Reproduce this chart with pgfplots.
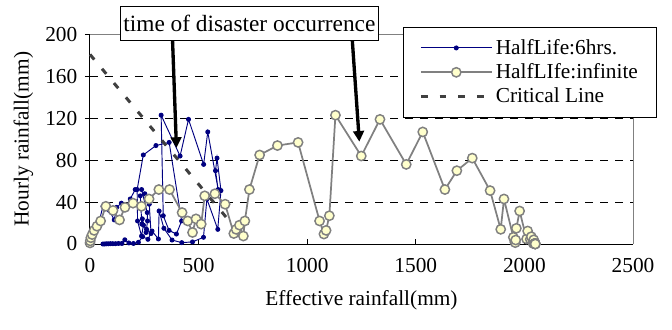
\documentclass[border=0pt]{standalone}
\usepackage{fontspec}
\setmainfont{Liberation Serif}
\usepackage{pgfplots}
\pgfplotsset{compat=1.18}
\usetikzlibrary{arrows.meta}
\definecolor{bluenavy}{RGB}{0,0,128}
\definecolor{grayline}{RGB}{128,128,128}
\definecolor{ltyellow}{RGB}{255,255,204}
\definecolor{critcol}{RGB}{64,64,64}

\pgfplotstableread{
x y
0 1
1 3
3.9 6
9.5 9
17.5 13
28.6 17
42.5 22
59.8 36
89.3 32
111.6 23
122.8 35
144.4 39
167.7 36
185.4 43
208.2 52
237.5 52
263.6 30
264.9 22
258 11
240.9 24
238.6 19
231.6 46
252.4 48
272.9 38
281.1 10
260.5 14
246.1 18
237.3 7.6
219 22
217.1 52
245.4 85
303.6 94
364.5 97
421.8 22
397.8 9.5
364 13
337.3 27
327.5 123
414.8 84
453.6 119
523.2 76
542.2 107
590.1 52
577.8 70
584.8 82
603 51
588.3 14
538.2 43
522.5 6.4
471.9 2
422.5 1.3
377.7 3.8
340.3 15
318.2 31.5
315 4.8
285.5 12.4
266.8 4.5
242.2 7
222.8 1.6
200.1 0.5
178.8 1
160.3 4
146.8 0.5
131.3 0.5
117.5 0.3
105 0.3
93.9 0.3
84 0.2
75 0.2
67 0
59.7 0
}\sixhrs

\pgfplotstableread{
x y
0 1
1 3
4 6
10 9
19 13
32 17
49 22
73 36
106 32
136 23
161 35
198 39
237 36
272 43
317 52
366 52
424 30
450 22
472 11
488 24
512 19
528 46
575 48
622 38
662 10
673 14
688 18
706 7.6
713 22
734 52
781 85
863 94
958 97
1057 22
1077 9.5
1087 13
1102 27
1130 123
1249 84
1335 119
1456 76
1532 107
1634 52
1689 70
1760 82
1842 51
1891 14
1906 43
1949 6.4
1956 2
1958 1.3
1960 3.8
1963 15
1978 31.5
2010 4.8
2015 12.4
2027 4.5
2032 7
2039 1.6
2041 0.5
2042 1
2043 4
2047 0.5
2048 0.5
2048.5 0.3
2049 0.3
2049.3 0.3
2049.6 0.2
2049.8 0.2
2050 0
2050 0
}\infinite

\begin{document}
\begin{tikzpicture}
\path[use as bounding box] (-67.5pt,-63.75pt) rectangle (436.5pt,183pt);
\begin{axis}[
  at={(0pt,0pt)}, anchor=south west,
  scale only axis, width=407.25pt, height=157.1pt,
  xmin=0, xmax=2500, ymin=0, ymax=200,
  clip=false,
  xtick={0,500,...,2500}, ytick={0,40,...,200},
  extra y ticks={40,80,120,160},
  extra y tick labels={},
  extra y tick style={grid=major, major tick length=0pt},
  grid style={black, line width=0.6pt, dash pattern=on 6pt off 5.25pt},
  axis x line*=bottom, axis y line*=left,
  axis line style={black, line width=0.75pt, -},
  tick align=inside,
  major tick length=3.75pt,
  tick style={black, line width=0.75pt},
  y tick style={xshift=-3.75pt},
  /pgf/number format/assume math mode=true,
  /pgf/number format/1000 sep={},
  tick label style={font=\fontsize{16}{19}\selectfont},
  yticklabel style={anchor=east, xshift=-6pt},
  xticklabel style={anchor=north, yshift=-7.5pt},
  label style={font=\fontsize{16}{19}\selectfont},
  xlabel={Effective rainfall(mm)},
  ylabel={Hourly rainfall(mm)},
  x label style={at={(axis description cs:0.5,-0.2673)}, anchor=center},
  y label style={at={(axis description cs:-0.1225,0.5)}, anchor=center},
  legend cell align=left,
  legend image code/.code={\draw[mark repeat=2,mark phase=2,#1] plot coordinates {(0pt,0pt) (26.5pt,0pt) (53pt,0pt)};},
  legend style={at={(rel axis cs:1.0442,1.0358)}, anchor=north east,
    draw=black, line width=0.6pt, fill=white,
    font=\fontsize{16}{19}\selectfont,
    inner xsep=12pt, inner ysep=7pt, row sep=1.5pt,
    nodes={inner sep=2pt}},
]
\draw[grayline, line width=0.75pt] (rel axis cs:0,1) -- (rel axis cs:1,1) -- (rel axis cs:1,0);

\addplot[color=bluenavy, line width=0.7pt, mark=*, mark size=1.5pt] table[x=x,y=y] {\sixhrs};
\addlegendentry{HalfLife:6hrs.}

\addplot[forget plot, color=critcol, line width=2.25pt, dash pattern=on 5pt off 9pt] coordinates {(0,181) (660,17.4)};

\addplot[color=grayline, line width=1.3pt, mark=*, mark size=3.5pt,
  mark options={fill=ltyellow, draw=grayline, line width=1.1pt}] table[x=x,y=y] {\infinite};
\addlegendentry{HalfLIfe:infinite}

\addlegendimage{critcol, line width=2.25pt, dash pattern=on 5pt off 9pt}
\addlegendentry{Critical Line}

\draw[black, line width=2.5pt, -{Triangle[width=8pt,length=8pt]}] (axis cs:380,194.7) -- (axis cs:398,91.7);
\draw[black, line width=2.5pt, -{Triangle[width=8pt,length=8pt]}] (axis cs:1207.6,194.7) -- (axis cs:1240,97.7);

\node[draw=black, line width=0.75pt, fill=white, minimum width=194pt, minimum height=25.5pt, inner sep=0pt,
  font=\fontsize{17.5}{20}\selectfont] at (axis cs:734,211) {time of disaster occurrence};
\end{axis}
\end{tikzpicture}
\end{document}
